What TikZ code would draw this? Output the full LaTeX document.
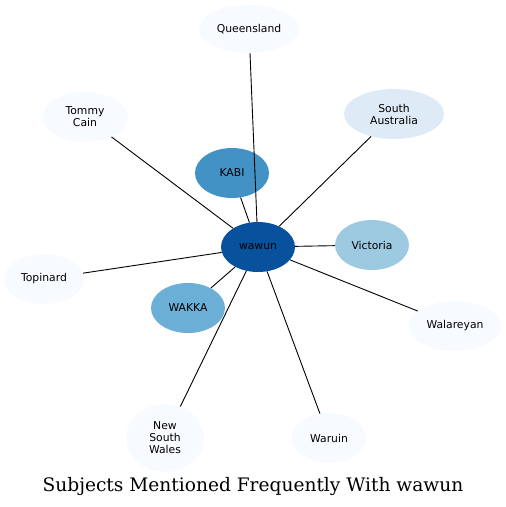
\documentclass[tikz,border=0pt]{standalone}
\usepackage{fontspec}
\setmainfont{DejaVu Serif}
\setsansfont{DejaVu Sans}
\usetikzlibrary{shapes.geometric}
\definecolor{BluesA}{HTML}{F7FBFF}
\definecolor{BluesB}{HTML}{DEEBF7}
\definecolor{BluesC}{HTML}{9ECAE1}
\definecolor{BluesD}{HTML}{6BAED6}
\definecolor{BluesE}{HTML}{4292C6}
\definecolor{BluesF}{HTML}{08519C}
\tikzset{
  subject node/.style={
    ellipse,
    fill=#1,
    inner sep=0pt,
    minimum width=74,
    minimum height=50,
    align=center,
    font=\sffamily\fontsize{10.8}{12}\selectfont
  },
  mention/.style={
    draw,
    black,
    line width=0.9pt,
  },
}

\begin{document}
\begin{tikzpicture}[x=1pt,y=-1pt]
  \useasboundingbox (0,0) rectangle (506,507);
  \node[subject node=BluesA, minimum width=100, minimum height=48] (queensland) at (249,29) {Queensland};
  \node[subject node=BluesA, minimum width=86] (tommy) at (85,117) {Tommy\\Cain};
  \node[subject node=BluesB, minimum width=100] (southaus) at (394,114) {South\\Australia};
  \node[subject node=BluesE] (kabi) at (232,173) {KABI};
  \node[subject node=BluesC] (victoria) at (372,245) {Victoria};
  \node[subject node=BluesA, minimum width=80] (topinard) at (44,279) {Topinard};
  \node[subject node=BluesD] (wakka) at (188,308) {WAKKA};
  \node[subject node=BluesA, minimum width=92] (walareyan) at (455,326) {Walareyan};
  \node[subject node=BluesA, minimum width=78, minimum height=68] (nsw) at (165,438) {New\\South\\Wales};
  \node[subject node=BluesA] (waruin) at (329,438) {Waruin};
  \node[subject node=BluesF] (wawun) at (258,247) {wawun}
    edge[mention] (queensland)
    edge[mention] (tommy)
    edge[mention] (southaus)
    edge[mention] (kabi)
    edge[mention] (victoria)
    edge[mention] (topinard)
    edge[mention] (wakka)
    edge[mention] (walareyan)
    edge[mention] (nsw)
    edge[mention] (waruin);
  \node[font=\fontsize{18.6}{21}\selectfont] (title) at (253,486) {Subjects Mentioned Frequently With wawun};
\end{tikzpicture}
\end{document}
